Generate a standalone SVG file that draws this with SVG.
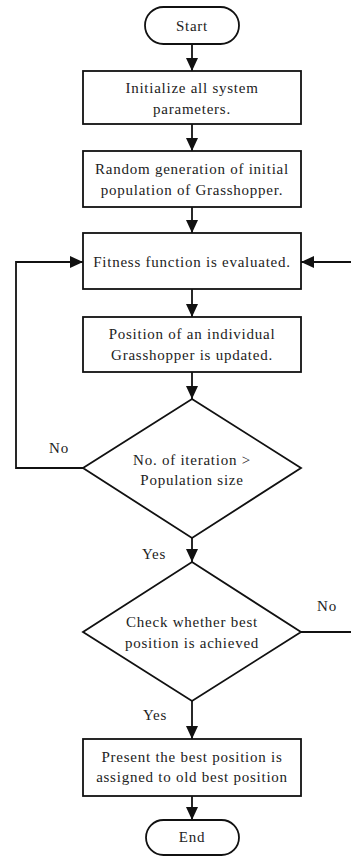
<svg xmlns="http://www.w3.org/2000/svg" width="351" height="857" viewBox="0 0 351 857">
<style>
.s{fill:#fff;stroke:#111;stroke-width:1.8}
.c{fill:none;stroke:#111;stroke-width:1.8}
text{font-family:"Liberation Serif","Times New Roman",serif;font-size:15px;letter-spacing:0.75px;fill:#222;text-anchor:middle}
</style>
<defs>
<marker id="a" markerUnits="userSpaceOnUse" markerWidth="14" markerHeight="14" viewBox="0 0 14 14" refX="13" refY="7" orient="auto">
<path d="M0,1 L13,7 L0,13 Z" fill="#111"/>
</marker>
</defs>
<rect width="351" height="857" fill="#fff"/>
<g id="connectors">
<line class="c" x1="192" y1="44" x2="192" y2="71" marker-end="url(#a)"/>
<line class="c" x1="192" y1="124" x2="192" y2="151" marker-end="url(#a)"/>
<line class="c" x1="192" y1="207" x2="192" y2="233" marker-end="url(#a)"/>
<line class="c" x1="192" y1="289" x2="192" y2="317" marker-end="url(#a)"/>
<line class="c" x1="192" y1="372" x2="192" y2="399" marker-end="url(#a)"/>
<line class="c" x1="192" y1="538" x2="192" y2="562" marker-end="url(#a)"/>
<line class="c" x1="192" y1="701" x2="192" y2="739" marker-end="url(#a)"/>
<line class="c" x1="192" y1="796" x2="192" y2="820" marker-end="url(#a)"/>
<polyline class="c" points="83,468 16,468 16,262 83,262" marker-end="url(#a)"/>
<polyline class="c" points="301,632 355,632 355,262 301,262" marker-end="url(#a)"/>
<text x="59" y="453">No</text>
<text x="154" y="559">Yes</text>
<text x="327" y="611">No</text>
<text x="155" y="720">Yes</text>
</g>
<g id="start">
<rect class="s" x="145" y="7" width="94" height="37" rx="18.5"/>
<text x="192" y="31">Start</text>
</g>
<g id="init">
<rect class="s" x="83" y="71" width="218" height="53"/>
<text x="192" y="93">Initialize all system</text>
<text x="192" y="114">parameters.</text>
</g>
<g id="random">
<rect class="s" x="83" y="151" width="218" height="56"/>
<text x="192" y="174">Random generation of initial</text>
<text x="192" y="195">population of Grasshopper.</text>
</g>
<g id="fitness">
<rect class="s" x="83" y="233" width="218" height="56"/>
<text x="192" y="267">Fitness function is evaluated.</text>
</g>
<g id="position">
<rect class="s" x="83" y="317" width="218" height="55"/>
<text x="192" y="339">Position of an individual</text>
<text x="192" y="360">Grasshopper is updated.</text>
</g>
<g id="iter">
<polygon class="s" points="192,399 301,468 192,538 83,468"/>
<text x="192" y="465">No. of iteration &gt;</text>
<text x="192" y="485">Population size</text>
</g>
<g id="check">
<polygon class="s" points="192,562 301,632 192,701 83,632"/>
<text x="192" y="627">Check whether best</text>
<text x="192" y="648">position is achieved</text>
</g>
<g id="present">
<rect class="s" x="83" y="739" width="218" height="57"/>
<text x="192" y="762">Present the best position is</text>
<text x="192" y="782">assigned to old best position</text>
</g>
<g id="end">
<rect class="s" x="146" y="820" width="93" height="35" rx="17.5"/>
<text x="192" y="842">End</text>
</g>
</svg>
